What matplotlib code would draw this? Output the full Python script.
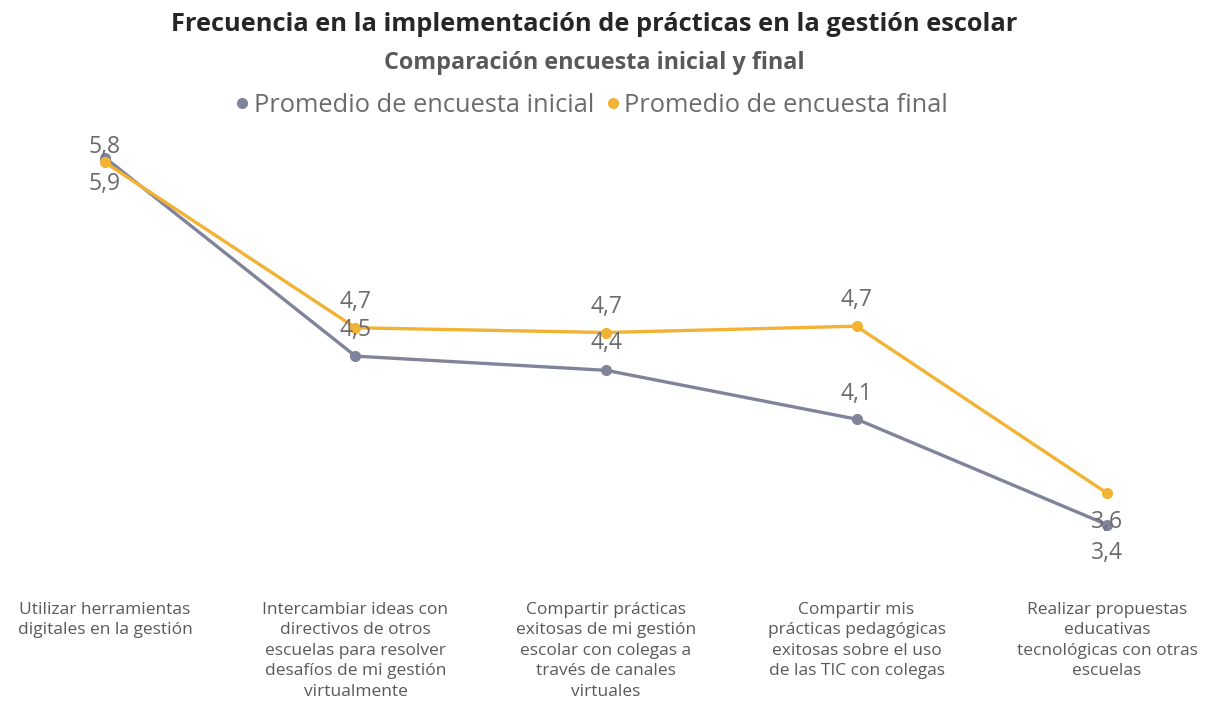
import matplotlib.pyplot as plt

# categorias y promedios
categorias = ['Utilizar herramientas\ndigitales en la gestión',
              'Intercambiar ideas con\ndirectivos de otros\nescuelas para resolver\ndesafíos de mi gestión\nvirtualmente',
              'Compartir prácticas\nexitosas de mi gestión\nescolar con colegas a\ntravés de canales\nvirtuales',
              'Compartir mis\nprácticas pedagógicas\nexitosas sobre el uso\nde las TIC con colegas',
              'Realizar propuestas\neducativas\ntecnológicas con otras\nescuelas']
inicial = [5.76, 4.50, 4.41, 4.10, 3.43]
final = [5.73, 4.68, 4.65, 4.69, 3.63]
etiq_inicial = ['5,8', '4,5', '4,4', '4,1', '3,4']
etiq_final = ['5,9', '4,7', '4,7', '4,7', '3,6']

plt.rcParams['font.family'] = ['Open Sans', 'DejaVu Sans']

gris = '#7F849B'
naranja = '#F2B233'
texto = '#6B6B6B'

fig = plt.figure(figsize=(12.08, 7.01), dpi=100)
ax = fig.add_axes([0, 0.201, 1, 0.599])
x = range(len(categorias))

ax.plot(x, inicial, color=gris, lw=2.4, marker='o', ms=7, label='Promedio de encuesta inicial', zorder=3)
ax.plot(x, final, color=naranja, lw=2.4, marker='o', ms=7, label='Promedio de encuesta final', zorder=4)

# desplazamiento vertical de cada etiqueta (en pixeles)
desp_inicial = [11, 26, 27, 25, -28]
desp_final = [-22, 26, 26, 26, -29]
for i in x:
    ax.annotate(etiq_inicial[i], (i, inicial[i]), xytext=(0, desp_inicial[i] * 0.72),
                textcoords='offset points', ha='center', va='center', fontsize=16.5, color=texto, zorder=5)
    ax.annotate(etiq_final[i], (i, final[i]), xytext=(0, desp_final[i] * 0.72),
                textcoords='offset points', ha='center', va='center', fontsize=16.5, color=texto, zorder=5)

ax.set_xlim(-0.419, 4.403)
ax.set_ylim(3.205, 5.871)
ax.set_yticks([])
ax.set_xticks(list(x))
ax.set_xticklabels(categorias, fontsize=12.5, color='#595959', va='top', linespacing=1.38)
ax.tick_params(axis='x', length=0, pad=30)
for s in ax.spines.values():
    s.set_visible(False)

fig.text(0.492, 0.965, 'Frecuencia en la implementación de prácticas en la gestión escolar',
         ha='center', va='center', fontsize=18.3, fontweight='bold', color='#262626')
fig.text(0.492, 0.91, 'Comparación encuesta inicial y final',
         ha='center', va='center', fontsize=16.8, fontweight='bold', color='#595959')
leg = fig.legend(loc='center', bbox_to_anchor=(0.49, 0.85), ncol=2, frameon=False, fontsize=18.3,
                 handlelength=0.5, handletextpad=0.2, columnspacing=0.5, labelcolor=texto)
for h in leg.legend_handles:
    h.set_linestyle('none')

fig.savefig('out.png', dpi=100)
